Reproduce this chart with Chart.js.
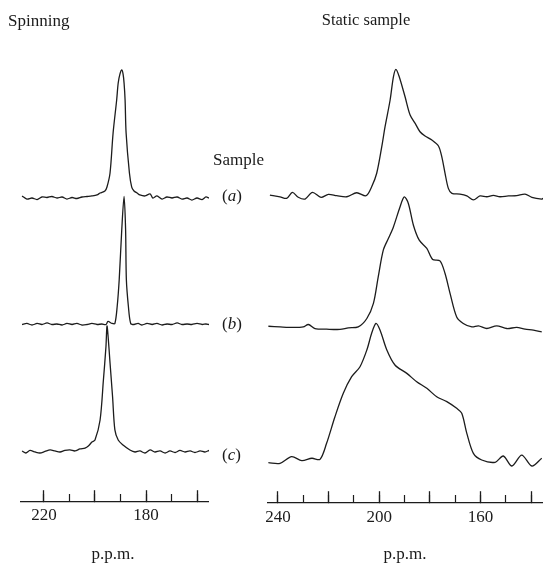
<!DOCTYPE html>
<html><head><meta charset="utf-8">
<script src="https://cdn.jsdelivr.net/npm/chart.js@4.4.1/dist/chart.umd.min.js"></script>
<style>
html,body{margin:0;padding:0;background:#fff;}
#wrap{position:relative;width:543px;height:567px;overflow:hidden;font-family:"Liberation Serif","Times New Roman",serif;color:#1a1a1a;background:#fff;}
canvas{position:absolute;top:0;}
.t{position:absolute;font-size:17px;white-space:nowrap;line-height:1;}
.c{transform:translateX(-50%);}
</style></head><body>
<div id="wrap">
<canvas id="left" width="189" height="567" style="left:20px"></canvas>
<canvas id="right" width="287" height="567" style="left:256px"></canvas>
<div class="t" style="left:8px;top:12px">Spinning</div>
<div class="t c" style="left:366px;top:12px;font-size:16.5px">Static sample</div>
<div class="t" style="left:213px;top:151px">Sample</div>
<div class="t" style="left:222px;top:187px">(<i>a</i>)</div>
<div class="t" style="left:222px;top:315px">(<i>b</i>)</div>
<div class="t" style="left:222px;top:446px">(<i>c</i>)</div>
<div class="t c" style="left:113px;top:545px">p.p.m.</div>
<div class="t c" style="left:405px;top:545px">p.p.m.</div>
</div>
<script>
// ---- data: [chemical shift (p.p.m.), relative intensity] ----
const spinningA = [[228.6,0.8],[226.7,-1.6],[224.7,-0.8],[222.7,-2.0],[220.8,0],[218.8,-0.4],[216.9,0.4],[214.9,-0.8],[212.9,0],[211.0,-1.6],[209.0,-0.4],[207.1,-1.2],[205.1,0],[203.1,0.4],[201.2,0.8],[199.2,1.6],[198.0,3.1],[196.1,4.7],[195.3,7.8],[194.1,18.8],[192.9,50.2],[191.5,76.1],[190.9,89.4],[190.2,96.5],[189.5,99.6],[189.0,96.5],[188.6,89.4],[188.2,76.1],[187.8,50.2],[186.5,18.8],[185.6,7.8],[184.7,4.7],[183.5,3.1],[182.4,1.6],[180.4,0.8],[178.4,2.4],[177.3,-0.8],[175.7,0.8],[173.7,-1.6],[171.8,0],[169.8,-0.8],[167.8,0],[165.9,-1.6],[163.9,-0.8],[162.0,-2.4],[160.0,-0.8],[158.0,-2.0],[156.5,0],[155.3,-0.8]];
const spinningB = [[228.6,0],[226.7,0.8],[224.7,-0.4],[222.7,0.8],[220.8,0],[218.8,1.2],[216.9,0],[214.9,0.4],[212.9,-0.4],[211.0,0.8],[209.0,0],[207.1,0.8],[205.1,-0.4],[203.1,0],[201.2,0.8],[199.2,0],[197.3,0.4],[195.7,0],[194.9,2.4],[193.3,0.8],[192.2,0.8],[191.3,14.1],[190.5,35.3],[189.5,74.5],[188.6,100.4],[188.0,74.5],[187.7,35.3],[186.9,14.1],[186.0,0.8],[184.7,0],[183.1,0.8],[181.6,-0.4],[179.6,0.8],[177.6,0],[175.7,0.8],[173.7,-0.4],[171.8,0.4],[169.8,0],[167.8,1.2],[165.9,0],[163.9,0.4],[162.0,0],[160.0,0.8],[158.0,0],[156.5,0.4],[155.3,0]];
const spinningC = [[228.6,0.8],[227.1,-0.8],[225.5,1.2],[223.5,0],[221.6,-0.8],[219.6,0.4],[217.6,1.6],[215.7,0.8],[213.7,0],[211.8,1.2],[209.8,1.6],[207.8,0.8],[205.9,2.4],[203.9,3.1],[202.6,4.7],[201.2,7.8],[200.0,9.4],[198.0,25.1],[196.7,56.5],[195.7,82.6],[195.3,98.8],[194.9,91.8],[194.1,69.8],[193.1,43.1],[192.2,17.3],[190.9,9.4],[189.0,5.5],[186.3,1.6],[184.3,0],[182.4,0.8],[180.4,-0.8],[178.4,1.6],[176.5,0],[174.5,0.8],[172.5,-0.8],[170.6,0.8],[168.6,-0.4],[166.7,1.2],[164.7,0],[162.7,0.8],[160.8,-0.4],[158.8,0.8],[156.9,0],[155.3,1.2]];
const staticA = [[243.2,0],[239.2,-1.3],[236.6,-2.5],[234.3,2.0],[232.0,-1.7],[229.3,-3.0],[226.4,2.0],[223.0,-1.7],[220.1,0.5],[216.8,-0.5],[212.8,-1.3],[208.9,1.7],[205.2,-0.5],[203.0,6.2],[201.0,16.3],[199.0,36.2],[197.7,51.2],[195.7,71.2],[194.4,88.6],[193.4,94.2],[192.1,88.6],[189.8,73.6],[187.8,59.9],[185.8,53.7],[183.9,47.4],[181.9,44.2],[179.2,41.2],[176.6,36.7],[175.3,28.7],[174.0,16.3],[172.7,5.0],[171.3,1.3],[168.1,0.7],[165.4,-0.7],[162.8,-3.7],[160.2,-0.7],[157.5,-1.3],[154.9,-0.2],[152.3,-1.3],[149.0,-0.7],[145.7,-0.5],[142.4,0.7],[139.7,-1.7],[135.8,-3.0],[135.3,-2.5]];
const staticB = [[243.8,0.7],[239.2,0.2],[234.0,-0.2],[230.0,0.2],[228.0,2.0],[225.4,-1.0],[220.8,-1.5],[215.5,-1.7],[212.2,-0.5],[208.3,0.2],[204.9,6.5],[202.3,17.8],[200.4,37.7],[198.4,57.7],[196.4,66.4],[194.4,75.1],[191.8,90.1],[190.1,97.6],[188.5,92.7],[186.5,76.4],[184.2,65.2],[181.2,59.0],[178.9,50.7],[176.0,49.7],[174.0,40.2],[172.0,25.2],[169.4,7.7],[166.8,2.8],[163.4,0.2],[160.8,1.0],[157.5,-1.0],[153.6,1.0],[149.6,-1.0],[145.7,-0.2],[142.4,-1.5],[139.1,-2.2],[135.8,-3.5]];
const staticC = [[243.8,-0.5],[239.2,-1.0],[234.6,4.0],[230.6,1.0],[226.6,2.8],[223.4,2.0],[220.8,14.0],[217.5,33.9],[214.2,51.5],[210.9,63.9],[207.6,71.4],[204.9,83.9],[203.0,96.4],[201.3,103.9],[199.7,98.9],[197.0,83.9],[193.8,72.7],[189.1,66.4],[185.2,60.1],[181.2,55.2],[177.3,48.9],[173.3,45.2],[169.4,40.2],[167.4,36.5],[165.4,21.5],[162.8,6.5],[159.5,1.5],[154.2,-0.2],[151.0,4.5],[147.6,-3.0],[143.7,5.2],[139.7,-3.0],[135.8,2.8]];
// vertical stacking offsets for traces (a), (b), (c)
const spinningOffsets = [200, 100, 0];
const staticOffsets = [200, 101, 0];
// labelled tick values
const spinningTickLabels = [220, 180];
const staticTickLabels = [240, 200, 160];
const spinningRange = [155.3, 229.4];
const staticRange = [135.3, 243.95];

const INK = '#1c1c1c';
const FONT = {family: "'Liberation Serif','Times New Roman',serif", size: 17};

function ds(points, off) {
  return {
    data: points.map(([p, v]) => ({x: p, y: v + off})),
    borderColor: INK, borderWidth: 1.3, pointRadius: 0, tension: 0.3, fill: false
  };
}
function zeroPad(s) { s.paddingLeft = 0; s.paddingRight = 0; s.paddingTop = 0; s.paddingBottom = 0; }

function makeChart(id, series, offsets, range, yRange, axisY, labels, padding, leftPad) {
  new Chart(document.getElementById(id), {
    type: 'line',
    data: {datasets: series.map((s, i) => ds(s, offsets[i]))},
    options: {
      responsive: false, animation: false, events: [],
      layout: {padding: {left: leftPad, right: 0, top: 0, bottom: 0}},
      plugins: {legend: {display: false}, tooltip: {enabled: false}},
      scales: {
        x: {
          type: 'linear', reverse: true, min: range[0], max: range[1],
          position: {y: axisY},
          afterFit: zeroPad,
          border: {display: true, color: INK, width: 1.2},
          grid: {display: true, drawOnChartArea: false, drawTicks: true, tickLength: -12, color: INK, tickWidth: 1.3},
          ticks: {stepSize: 20, autoSkip: false, maxRotation: 0, includeBounds: false, padding: padding,
            color: INK, font: FONT,
            callback: (v) => labels.includes(v) ? String(v) : ''}
        },
        xMinor: {
          type: 'linear', reverse: true, min: range[0], max: range[1],
          position: {y: axisY},
          afterFit: zeroPad,
          border: {display: false},
          grid: {display: true, drawOnChartArea: false, drawTicks: true, tickLength: -7, color: INK, tickWidth: 1.2},
          ticks: {stepSize: 10, autoSkip: false, includeBounds: false, display: false}
        },
        y: {display: false, min: yRange[0], max: yRange[1]}
      }
    }
  });
}

makeChart('left', [spinningA, spinningB, spinningC], spinningOffsets, spinningRange, [-90.2, 354.5], -38.8, spinningTickLabels, 16, 0);
makeChart('right', [staticA, staticB, staticC], staticOffsets, staticRange, [-78.65, 346.1], -30.3, staticTickLabels, 17, 12);
</script>
</body></html>
